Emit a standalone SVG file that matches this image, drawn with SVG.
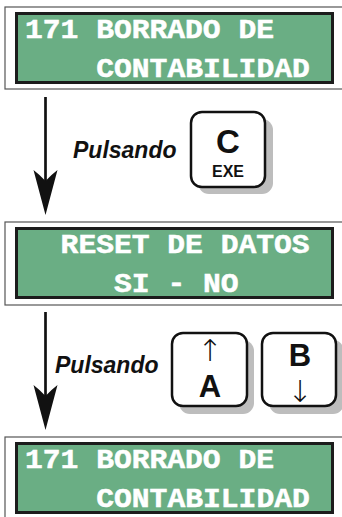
<svg xmlns="http://www.w3.org/2000/svg" width="342" height="517" viewBox="0 0 342 517">
  <style>
    .frame { fill: none; stroke: #555; stroke-width: 1.2; }
    .lcd { fill: #6aae84; stroke: #1c1c1c; stroke-width: 3; }
    .lcdtext { font-family: "Liberation Mono", "Courier New", monospace; font-weight: bold; font-size: 27px; fill: #ffffff; stroke: #ffffff; stroke-width: 0.5; }
    .shadow { fill: #bdbdbd; }
    .key { fill: #ffffff; stroke: #111; stroke-width: 2.5; }
    .keytext { font-family: "Liberation Sans", Arial, sans-serif; font-weight: bold; fill: #111; text-anchor: middle; }
    .sym { font-family: "DejaVu Sans", sans-serif; font-weight: 200; fill: #111; text-anchor: middle; }
    .label { font-family: "Liberation Sans", Arial, sans-serif; font-weight: bold; font-style: italic; font-size: 23px; fill: #111; }
    .shaft { stroke: #111; stroke-width: 2.7; fill: none; }
    .head { fill: #111; }
  </style>

  <!-- first display: menu 171 -->
  <g id="display-171-top">
    <rect class="frame" x="5" y="7" width="350" height="82"/>
    <rect class="lcd" x="16.5" y="13.5" width="316" height="69"/>
    <text class="lcdtext" x="25" y="37.5" textLength="249" lengthAdjust="spacingAndGlyphs">171 BORRADO DE</text>
    <text class="lcdtext" x="96.2" y="76.5" textLength="213.6" lengthAdjust="spacingAndGlyphs">CONTABILIDAD</text>
  </g>

  <!-- second display: confirmation -->
  <g id="display-reset">
    <rect class="frame" x="5" y="222" width="350" height="83"/>
    <rect class="lcd" x="16.5" y="228.5" width="316" height="69"/>
    <text class="lcdtext" x="60.6" y="252.5" textLength="249" lengthAdjust="spacingAndGlyphs">RESET DE DATOS</text>
    <text class="lcdtext" x="114" y="291.5" textLength="124.6" lengthAdjust="spacingAndGlyphs">SI - NO</text>
  </g>

  <!-- third display: back to menu 171 -->
  <g id="display-171-bottom">
    <rect class="frame" x="5" y="437" width="350" height="90"/>
    <rect class="lcd" x="16.5" y="443.5" width="316" height="69"/>
    <text class="lcdtext" x="25" y="467.5" textLength="249" lengthAdjust="spacingAndGlyphs">171 BORRADO DE</text>
    <text class="lcdtext" x="96.2" y="506.5" textLength="213.6" lengthAdjust="spacingAndGlyphs">CONTABILIDAD</text>
  </g>

  <!-- key C / EXE -->
  <g id="key-c-exe">
    <rect class="shadow" x="198" y="119" width="75" height="75" rx="11"/>
    <rect class="key" x="191" y="112" width="74" height="75" rx="11"/>
    <text class="keytext" x="228" y="153" font-size="33">C</text>
    <text class="keytext" x="228" y="177" font-size="16">EXE</text>
  </g>

  <!-- key A (up) -->
  <g id="key-a-up">
    <rect class="shadow" x="179" y="340" width="75" height="74" rx="11"/>
    <rect class="key" x="172" y="333" width="75" height="73" rx="11"/>
    <text class="sym" x="210" y="361" font-size="30">↑</text>
    <text class="keytext" x="210" y="397" font-size="31">A</text>
  </g>

  <!-- key B (down) -->
  <g id="key-b-down">
    <rect class="shadow" x="269" y="340" width="75" height="74" rx="11"/>
    <rect class="key" x="262" y="333" width="74" height="73" rx="11"/>
    <text class="keytext" x="300" y="366" font-size="31">B</text>
    <text class="sym" x="300" y="401.5" font-size="30">↓</text>
  </g>

  <!-- connectors between displays -->
  <g id="connectors">
    <line class="shaft" x1="45.5" y1="97" x2="45.5" y2="182"/>
    <path class="head" d="M45.5,215 L33.5,170 Q40,175 45.5,181 Q51,175 57.5,170 Z"/>
    <text class="label" x="73" y="158">Pulsando</text>

    <line class="shaft" x1="45.5" y1="312" x2="45.5" y2="397"/>
    <path class="head" d="M45.5,430 L33.5,385 Q40,390 45.5,396 Q51,390 57.5,385 Z"/>
    <text class="label" x="55" y="373">Pulsando</text>
  </g>
</svg>
